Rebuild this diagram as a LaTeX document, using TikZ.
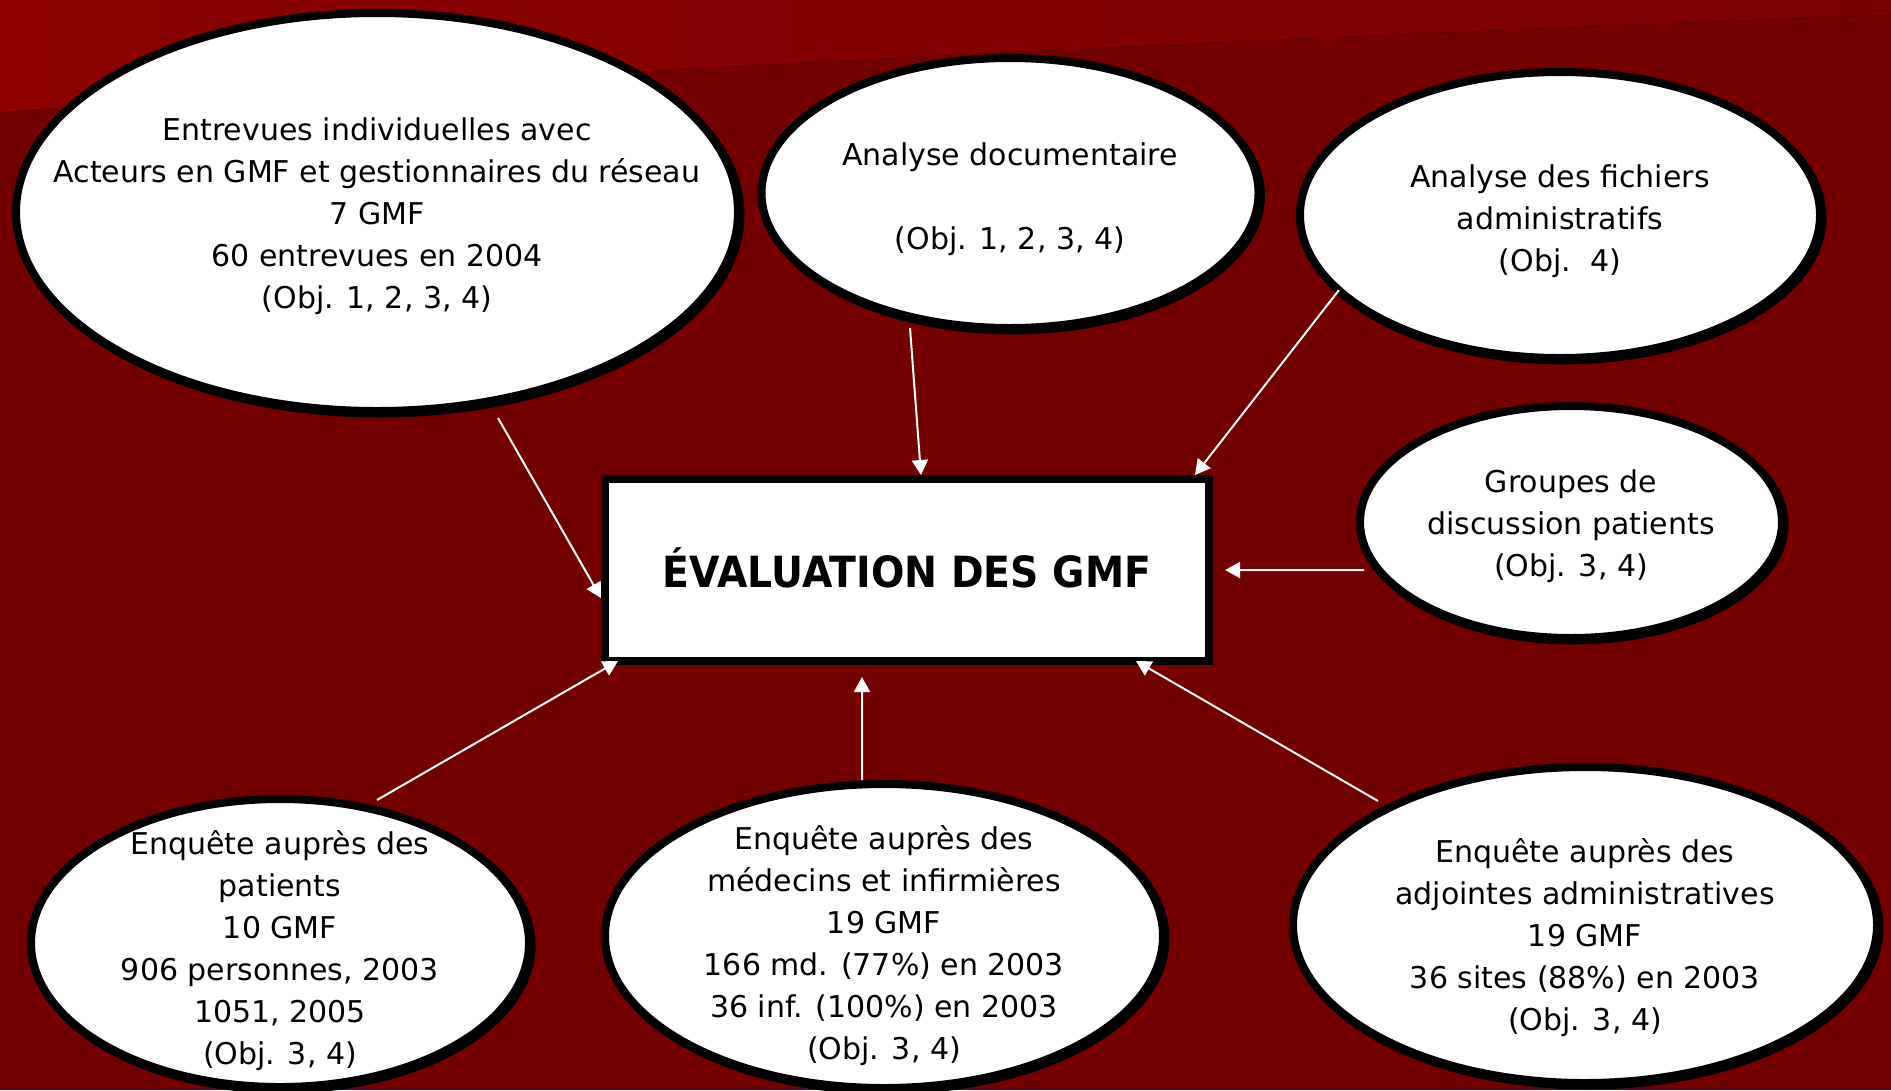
\documentclass[tikz,border=0pt]{standalone}
\usepackage{fontspec}
\setmainfont{DejaVu Sans}
\newfontfamily\titlefont[FakeStretch=0.915]{DejaVu Sans}
\usetikzlibrary{arrows.meta,shapes.geometric}
\definecolor{bgdark}{RGB}{114,0,0}
\definecolor{bglight}{RGB}{140,0,0}
\definecolor{bgmid}{RGB}{122,0,0}
\begin{document}
\begin{tikzpicture}[x=1bp,y=-1bp,
  oval/.style={ellipse, draw=black, line width=8bp, fill=white, inner sep=0pt,
    preaction={draw=black, fill=black, line width=8bp, transform canvas={xshift=2.5bp,yshift=-2.5bp}}},
  txt/.style={align=center, inner sep=0pt, text=black, font=\fontsize{30bp}{42bp}\selectfont},
  mainbox/.style={rectangle, draw=black, line width=8bp, fill=white, inner sep=0pt},
  arr/.style={draw=white, line width=2bp, -{Triangle[length=15bp,width=16bp]}},
]
\useasboundingbox (0,0) rectangle (1891,1090);
\clip (0,0) rectangle (1891,1090);
\fill[bgdark] (0,0) rectangle (1891,1090);
\fill[left color=bglight, right color=bgmid] (0,0) -- (1891,0) -- (1891,15) .. controls (1200,40) and (600,70) .. (0,112) -- cycle;

% ellipses
\node[oval, minimum width=722bp, minimum height=398bp] (tl) at (377,212) {};
\node[oval, minimum width=497bp, minimum height=270bp] (doc) at (1010,193) {};
\node[oval, minimum width=520bp, minimum height=286bp] (fich) at (1560,215) {};
\node[oval, minimum width=422bp, minimum height=232bp] (grp) at (1571,522) {};
\node[oval, minimum width=498bp, minimum height=288bp] (bl) at (280,943) {};
\node[oval, minimum width=558bp, minimum height=304bp] (bm) at (884,936) {};
\node[oval, minimum width=584bp, minimum height=316bp] (br) at (1585,925) {};

% central box
\node[mainbox, minimum width=604bp, minimum height=182bp] (box) at (907,570) {};
\node[inner sep=0pt, font=\titlefont\bfseries\fontsize{43bp}{50bp}\selectfont] (boxt) at (907,568) {ÉVALUATION DES GMF};

% texts
\node[txt, yshift=-4bp] (tlt) at (tl) {Entrevues individuelles avec\\Acteurs en GMF et gestionnaires du réseau\\7 GMF\\60 entrevues en 2004\\(Obj. 1, 2, 3, 4)};
\node[txt, yshift=-6bp] (doct) at (doc) {Analyse documentaire\\[42bp](Obj. 1, 2, 3, 4)};
\node[txt, yshift=-6bp] (ficht) at (fich) {Analyse des fichiers\\administratifs\\(Obj.\ \ 4)};
\node[txt, yshift=-4bp] (grpt) at (grp) {Groupes de\\discussion patients\\(Obj. 3, 4)};
\node[txt, yshift=-8bp] (blt) at (bl) {Enquête auprès des\\patients\\10 GMF\\906 personnes, 2003\\1051, 2005\\(Obj. 3, 4)};
\node[txt, yshift=-10bp] (bmt) at (bm) {Enquête auprès des\\médecins et infirmières\\19 GMF\\166 md. (77\%) en 2003\\36 inf. (100\%) en 2003\\(Obj. 3, 4)};
\node[txt, yshift=-13bp] (brt) at (br) {Enquête auprès des\\adjointes administratives\\19 GMF\\36 sites (88\%) en 2003\\(Obj. 3, 4)};

% arrows
\draw[arr] ([xshift=121bp,yshift=-3bp]tl.south) -- ([yshift=-28bp]box.west);
\draw[arr] ([xshift=-100bp,yshift=4bp]doc.south) -- ([xshift=14bp]box.north);
\draw[arr] ([xshift=-221bp,yshift=72bp]fich.south) -- ([xshift=-18bp]box.north east);
\draw[arr] ([xshift=8bp,yshift=-48bp]grp.west) -- ([xshift=12bp]box.east);
\draw[arr] ([xshift=97bp,yshift=-5bp]bl.north) -- ([xshift=17bp,yshift=4bp]box.south west);
\draw[arr] ([xshift=-22bp]bm.north) -- ([xshift=-45bp,yshift=-12bp]box.south);
\draw[arr] ([xshift=-207bp,yshift=-38bp]br.north) -- ([xshift=-77bp,yshift=4bp]box.south east);
\end{tikzpicture}
\end{document}
